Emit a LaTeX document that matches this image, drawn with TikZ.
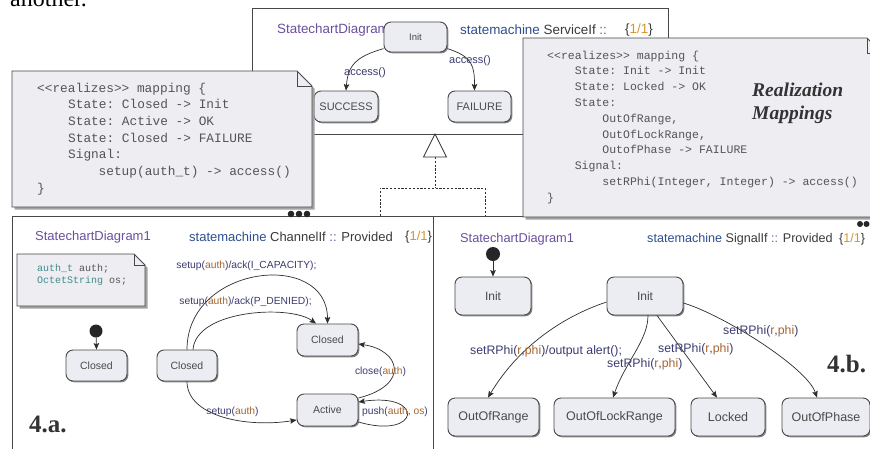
\documentclass[tikz,border=0pt]{standalone}
\usepackage{fontspec}
\setmainfont{Liberation Sans}
\setmonofont{Liberation Mono}
\newfontfamily\paperfont{Liberation Serif}
\usetikzlibrary{arrows.meta,shadows}

\definecolor{framec}{HTML}{484848}
\definecolor{statefill}{HTML}{ECECF3}
\definecolor{notefill}{HTML}{EDEDF2}
\definecolor{noteshade}{HTML}{A2A2A2}
\definecolor{diagc}{HTML}{6B4F9E}
\definecolor{smc}{HTML}{2E4F8F}
\definecolor{namec}{HTML}{3A3A3A}
\definecolor{colc}{HTML}{6A5AA0}
\definecolor{numc}{HTML}{D4962E}
\definecolor{lblc}{HTML}{3B3B70}
\definecolor{parc}{HTML}{A8652E}
\definecolor{typec}{HTML}{3F8C8C}
\definecolor{notetext}{HTML}{555555}
\definecolor{statetext}{HTML}{4A4A4A}
\definecolor{edgec}{HTML}{2E2E2E}

\newcommand\setfs[1]{\fontsize{#1}{#1}\selectfont}
\newcommand\prm[1]{\textcolor{parc}{#1}}

\tikzset{
  frame/.style={draw=framec, line width=0.8pt, fill=white},
  statebox/.style={draw=framec, fill=statefill, line width=0.9pt, rounded corners=7pt,
    text=statetext, inner sep=0pt,
    drop shadow={shadow xshift=1.3pt, shadow yshift=-1.3pt, fill=black!55, opacity=0.85}},
  initdot/.style={circle, fill=black!85, inner sep=0pt},
  trans/.style={draw=edgec, line width=0.7pt,
    -{Stealth[length=6.5pt,width=5.5pt,inset=1.2pt]}},
  lbl/.style={text=lblc, inner sep=0pt},
  hdr/.style={anchor=west, inner sep=0pt, text=namec},
  notebody/.style={draw=framec, line width=0.8pt, fill=notefill},
  noteshadow/.style={fill=noteshade},
  codeA/.style={anchor=base west, inner sep=0pt, text=notetext, font=\ttfamily\setfs{12.8}},
  codeB/.style={anchor=base west, inner sep=0pt, text=notetext, font=\ttfamily\setfs{11.5}},
  codeC/.style={anchor=base west, inner sep=0pt, text=notetext, font=\ttfamily\setfs{10}},
  realize/.style={dash pattern=on 2.2pt off 1.6pt, draw=edgec, line width=0.8pt},
  bigtag/.style={anchor=base west, inner sep=0pt, text=black!80, font=\paperfont\bfseries\setfs{25}},
  morebox/.style={circle, fill=black!85, inner sep=0pt, minimum size=6.6pt}
}

\begin{document}
\begin{tikzpicture}[x=1pt, y=-1pt]
\useasboundingbox (0,0) rectangle (870,448);

% running text above the figure
\node[anchor=base west, inner sep=0pt, font=\paperfont\setfs{24}] (para) at (10,6) {another.};

% ---------------- ServiceIf state machine ----------------
\draw[frame] (252,8) rectangle (668,134);
\node[hdr, text=diagc, font=\setfs{13.4}] (tDiag) at (277,30) {StatechartDiagram};
\node[hdr, font=\setfs{13.4}] (tName) at (460,30)
  {\textcolor{smc}{statemachine} ServiceIf \textcolor{colc}{::}};
\node[hdr, font=\setfs{13.4}] (tNum) at (625,30) {\{\textcolor{numc}{1/1}\}};

\node[statebox, minimum width=63pt, minimum height=30pt, font=\setfs{9.5}] (tInit) at (415.5,37) {Init};
\node[statebox, minimum width=64pt, minimum height=31pt, font=\setfs{11}] (tSucc) at (346,106.5) {SUCCESS};
\node[statebox, minimum width=63pt, minimum height=31pt, font=\setfs{11}] (tFail) at (479.5,106.5) {FAILURE};

\draw[trans] (tInit.200) .. controls +(-28,8) and +(2,-25) .. (tSucc.north);
\draw[trans] (tInit.-20) .. controls +(25,8) and +(0,-25) .. ([xshift=-5pt]tFail.north);
\node[lbl, font=\setfs{11}] (tLblA) at (365,73) {access()};
\node[lbl, font=\setfs{11}] (tLblB) at (470,61) {access()};

% realization: generalization arrow towards the service machine
\coordinate (genTip) at (435,134);
\coordinate (genBase) at (435,157);
\coordinate (genJoin) at (435,188);
\coordinate (genL) at (380,188);
\coordinate (genR) at (485,188);
\coordinate (dropL) at (380,216);
\coordinate (dropR) at (485,216);
\draw[realize] (genBase) -- (genJoin);
\draw[realize] (dropL) -- (genL) -- (genR) -- (dropR);
\draw[draw=edgec, line width=0.8pt, fill=white] (genTip) -- ++(-11.5,23) -- ++(23,0) -- cycle;

% ---------------- ChannelIf state machine ----------------
\draw[frame] (12,216) rectangle (433,470);
\node[hdr, text=diagc, font=\setfs{13}] (aDiag) at (35,237) {StatechartDiagram1};
\node[hdr, font=\setfs{13}] (aName) at (189,237)
  {\textcolor{smc}{statemachine} ChannelIf \textcolor{colc}{::} Provided};
\node[hdr, font=\setfs{13}] (aNum) at (405,237) {\{\textcolor{numc}{1/1}\}};

% attribute note
\fill[noteshadow] (19.5,256.5) -- (136.5,256.5) -- (147.5,267.5) -- (147.5,308.5) -- (19.5,308.5) -- cycle;
\draw[notebody] (17,254) -- (134,254) -- (145,265) -- (145,306) -- (17,306) -- cycle;
\draw[draw=framec, line width=0.8pt] (134,254) -- (134,265) -- (145,265);
\node[codeC] (aAttr1) at (37,271) {\textcolor{typec}{auth\_t} auth;};
\node[codeC] (aAttr2) at (37,283) {\textcolor{typec}{OctetString} os;};

\node[initdot, minimum size=13pt] (aStart) at (96,331) {};
\node[statebox, minimum width=61pt, minimum height=31pt, font=\setfs{10.5}] (cA) at (96.5,365.5) {Closed};
\node[statebox, minimum width=60pt, minimum height=31pt, font=\setfs{10.5}] (cB) at (187,365.5) {Closed};
\node[statebox, minimum width=61pt, minimum height=32pt, font=\setfs{10.5}] (cC) at (327.5,340) {Closed};
\node[statebox, minimum width=61pt, minimum height=32pt, font=\setfs{10.5}] (act) at (327.5,410) {Active};

\draw[trans] (aStart) -- (cA.north);
\draw[trans] (cB.north) .. controls +(0,-85) and +(0,-74) .. (cC.north);
\draw[trans] ([xshift=6pt]cB.north) .. controls +(3,-40) and +(-26,-19) .. ([xshift=-11.5pt]cC.north);
\draw[trans] (cB.south) .. controls +(0,35) and +(-50,8) .. ([yshift=-10pt]act.west);
\draw[trans] ([yshift=12pt]act.east) .. controls +(52,-13) and +(42,6) .. ([yshift=-4pt]cC.east);
\draw[trans] ([yshift=-12pt]act.east) .. controls +(62,18) and +(67,-10) .. ([yshift=8pt]act.east);

\node[lbl, font=\setfs{10.3}] (aLbl1) at (246.5,266) {setup(\prm{auth})/ack(I\_CAPACITY);};
\node[lbl, font=\setfs{10.3}] (aLbl2) at (245.5,302) {setup(\prm{auth})/ack(P\_DENIED);};
\node[lbl, font=\setfs{10.3}] (aLbl3) at (232.5,412) {setup(\prm{auth})};
\node[lbl, font=\setfs{10.3}] (aLbl4) at (380.5,372) {close(\prm{auth})};
\node[lbl, font=\setfs{10.3}] (aLbl5) at (395,412) {push(\prm{auth}, \prm{os})};

\node[bigtag] (tagA) at (29,432) {4.a.};

% ---------------- SignalIf state machine ----------------
\draw[frame] (433,216) rectangle (890,470);
\node[hdr, text=diagc, font=\setfs{12.8}] (bDiag) at (460,239) {StatechartDiagram1};
\node[hdr, font=\setfs{12.6}] (bName) at (647,239)
  {\textcolor{smc}{statemachine} SignalIf \textcolor{colc}{::} Provided};
\node[hdr, font=\setfs{12.6}] (bNum) at (839,239) {\{\textcolor{numc}{1/1}\}};

\node[initdot, minimum size=14pt] (bStart) at (493,254) {};
\node[statebox, minimum width=76pt, minimum height=38pt, font=\setfs{12}] (rInitA) at (493,296) {Init};
\node[statebox, minimum width=76pt, minimum height=38pt, font=\setfs{12}] (rInit) at (645,296) {Init};
\node[statebox, minimum width=91pt, minimum height=38pt, font=\setfs{12.5}] (rRange) at (493.5,417) {OutOfRange};
\node[statebox, minimum width=121pt, minimum height=38pt, font=\setfs{12.5}] (rLockR) at (614.5,417) {OutOfLockRange};
\node[statebox, minimum width=74pt, minimum height=38pt, font=\setfs{12.5}] (rLocked) at (728,417) {Locked};
\node[statebox, minimum width=88pt, minimum height=38pt, font=\setfs{12.5}] (rPhase) at (826,417) {OutOfPhase};

\draw[trans] (bStart) -- (rInitA.north);
\draw[trans] ([yshift=-6pt]rInit.west) .. controls +(-45,15) and +(30,-50) .. ([xshift=-5.5pt]rRange.north);
\draw[trans] ([xshift=3pt]rInit.south) .. controls +(0,25) and +(12,-35) .. ([xshift=-1.5pt]rLockR.north);
\draw[trans] ([xshift=12pt]rInit.south) -- ([xshift=-11pt]rLocked.north);
\draw[trans] ([yshift=-7pt]rInit.east) .. controls +(40,12) and +(-10,-30) .. ([xshift=-9pt]rPhase.north);

\node[lbl, anchor=west, font=\setfs{12.3}] (bLbl1) at (470,351) {setRPhi(\prm{r},\prm{phi})/output alert();};
\node[lbl, anchor=west, font=\setfs{12.3}] (bLbl2) at (607,364) {setRPhi(\prm{r},\prm{phi})};
\node[lbl, anchor=west, font=\setfs{12.3}] (bLbl3) at (658,349) {setRPhi(\prm{r},\prm{phi})};
\node[lbl, anchor=west, font=\setfs{12.3}] (bLbl4) at (723,331) {setRPhi(\prm{r},\prm{phi})};

\node[bigtag] (tagB) at (827,372) {4.b.};

% ---------------- realization mapping notes ----------------
\fill[noteshadow] (14.5,73.5) -- (299.5,73.5) -- (314.5,88.5) -- (314.5,209.5) -- (14.5,209.5) -- cycle;
\draw[notebody] (12,71) -- (297,71) -- (312,86) -- (312,207) -- (12,207) -- cycle;
\draw[draw=framec, line width=0.8pt] (297,71) -- (297,86) -- (312,86);
\node[codeA] (mA0) at (37,92) {<<realizes>> mapping \{};
\node[codeA] (mA1) at (68,108.7) {State: Closed -> Init};
\node[codeA] (mA2) at (68,125.3) {State: Active -> OK};
\node[codeA] (mA3) at (68,142) {State: Closed -> FAILURE};
\node[codeA] (mA4) at (68,158.7) {Signal:};
\node[codeA] (mA5) at (98.5,175.3) {setup(auth\_t) -> access()};
\node[codeA] (mA6) at (37,192) {\}};

\fill[noteshadow] (525.5,40.5) -- (869.5,40.5) -- (884.5,55.5) -- (884.5,219.5) -- (525.5,219.5) -- cycle;
\draw[notebody] (523,38) -- (867,38) -- (882,53) -- (882,217) -- (523,217) -- cycle;
\draw[draw=framec, line width=0.8pt] (867,38) -- (867,53) -- (882,53);
\node[codeB] (mB0) at (547,59) {<<realizes>> mapping \{};
\node[codeB] (mB1) at (574.6,74.8) {State: Init -> Init};
\node[codeB] (mB2) at (574.6,90.6) {State: Locked -> OK};
\node[codeB] (mB3) at (574.6,106.4) {State:};
\node[codeB] (mB4) at (602.2,122.2) {OutOfRange,};
\node[codeB] (mB5) at (602.2,138) {OutOfLockRange,};
\node[codeB] (mB6) at (602.2,153.8) {OutofPhase -> FAILURE};
\node[codeB] (mB7) at (574.6,169.6) {Signal:};
\node[codeB] (mB8) at (602.2,185.4) {setRPhi(Integer, Integer) -> access()};
\node[codeB] (mB9) at (547,201.2) {\}};

\node[anchor=base west, inner sep=0pt, text=black!80, font=\paperfont\bfseries\itshape\setfs{19.5}] (rmT1) at (752,96) {Realization};
\node[anchor=base west, inner sep=0pt, text=black!80, font=\paperfont\bfseries\itshape\setfs{19.5}] (rmT2) at (752,119) {Mappings};

% continuation marks
\node[morebox] (moreA1) at (291,214) {};
\node[morebox] (moreA2) at (299,214) {};
\node[morebox] (moreA3) at (307,214) {};
\node[morebox, minimum size=6pt] (moreB1) at (860,224) {};
\node[morebox, minimum size=6pt] (moreB2) at (866.5,224) {};
\node[morebox, minimum size=6pt] (moreB3) at (873,224) {};
\end{tikzpicture}
\end{document}
